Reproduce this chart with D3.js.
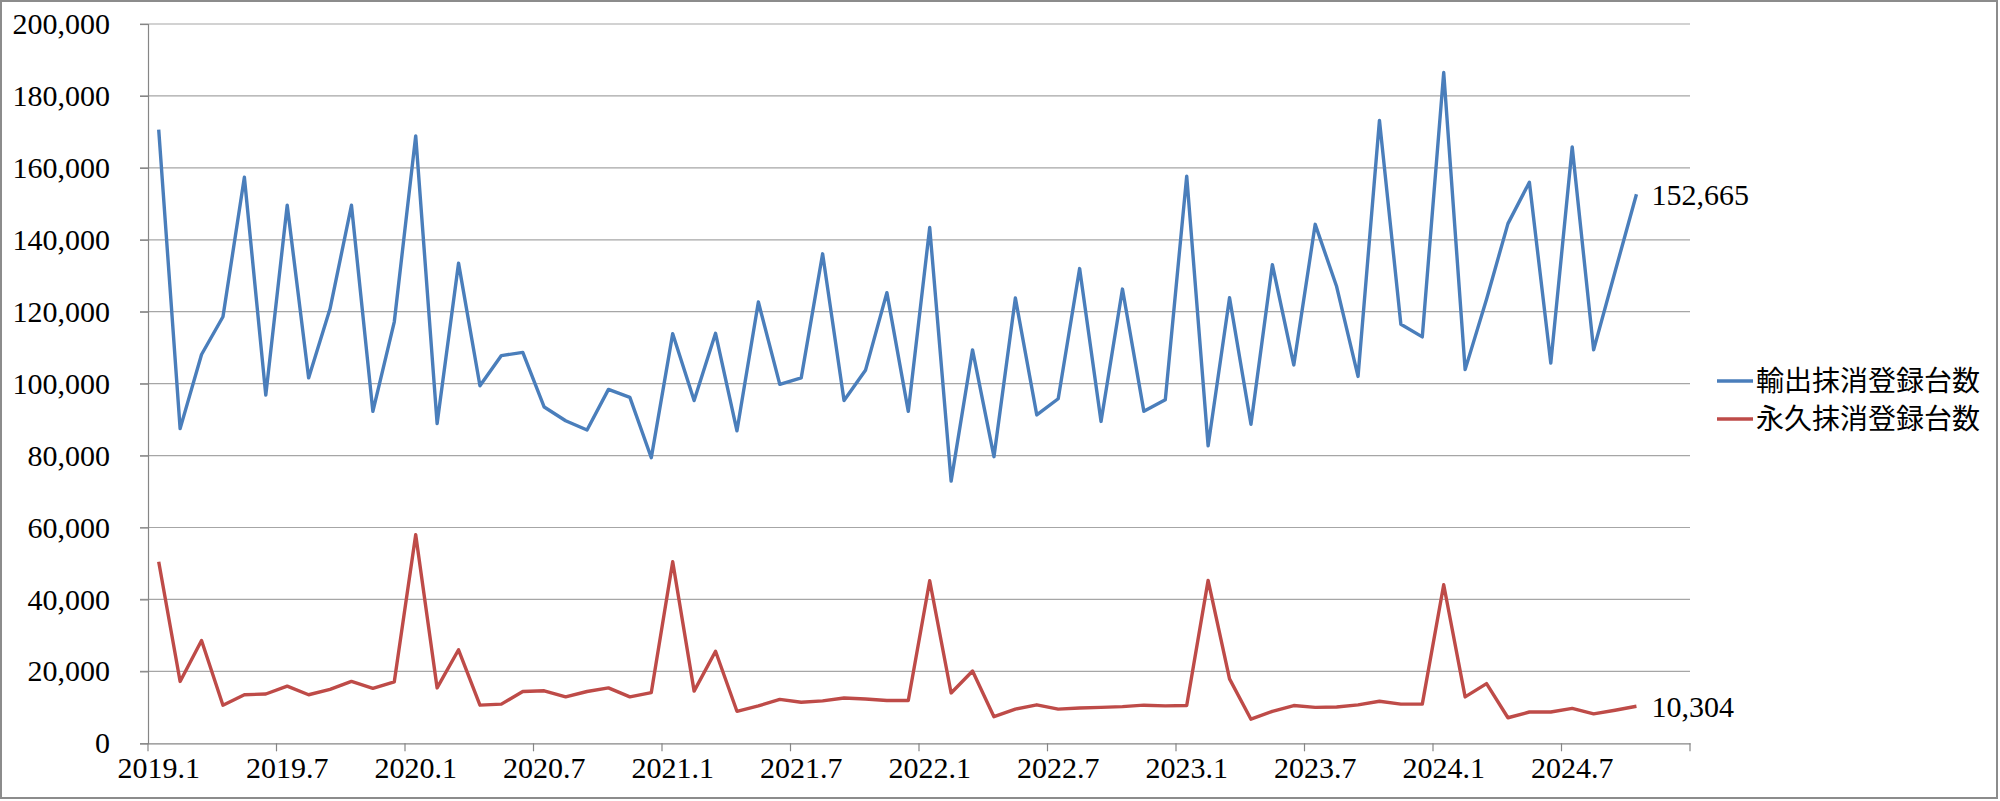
<!DOCTYPE html>
<html>
<head>
<meta charset="utf-8">
<script src="https://cdn.jsdelivr.net/npm/d3@7"></script>
<style>
  html, body { margin: 0; padding: 0; background: #fff; }
  svg { display: block; }
</style>
</head>
<body>
<svg id="chart" width="2000" height="801"></svg>
<script>
// ---- data ----
const years = [2019, 2020, 2021, 2022, 2023, 2024];
const months = [1,2,3,4,5,6,7,8,9,10,11,12];
const categories = [];
years.forEach(yr => months.forEach(m => categories.push(yr + "." + m)));

const seriesNames = ["輸出抹消登録台数", "永久抹消登録台数"];

const exportValues = [
  170600, 87500, 108100, 118600, 157400, 96800, 149600, 101600, 120800, 149600, 92300, 117200,
  168900, 88900, 133500, 99400, 107800, 108700, 93500, 89700, 87100, 98400, 96200, 79400,
  113900, 95300, 114000, 86900, 122700, 99800, 101600, 136100, 95300, 103700, 125300, 92300,
  143400, 72900, 109400, 79700, 123800, 91300, 95800, 132000, 89500, 126300, 92300, 95500,
  157700, 82700, 123900, 88700, 133100, 105200, 144300, 127000, 102000, 173200, 116500, 113000,
  186500, 103900, 123500, 144500, 156000, 105700, 165800, 109400, 131100, 152665
];

const permanentValues = [
  50500, 17200, 28600, 10600, 13500, 13700, 15900, 13500, 15000, 17200, 15300, 17100,
  58000, 15400, 26000, 10600, 10900, 14400, 14600, 12900, 14400, 15400, 12900, 14100,
  50500, 14500, 25600, 8900, 10400, 12200, 11400, 11800, 12600, 12300, 11900, 11900,
  45200, 14000, 20100, 7400, 9500, 10700, 9500, 9800, 10000, 10200, 10600, 10400,
  10500, 45300, 17900, 6700, 8900, 10500, 10000, 10100, 10700, 11700, 10900, 10900,
  44100, 12900, 16600, 7100, 8700, 8700, 9700, 8200, 9200, 10304
];

const yTicks = [0, 20000, 40000, 60000, 80000, 100000, 120000, 140000, 160000, 180000, 200000];
const xTickLabels = ["2019.1","2019.7","2020.1","2020.7","2021.1","2021.7","2022.1","2022.7","2023.1","2023.7","2024.1","2024.7"];

// ---- layout ----
const colors = ["#4A7EBB", "#BE4B48"];
const plotLeft = 148, plotRight = 1690, plotTop = 24, plotBottom = 743.3;
const numFont = "'Liberation Serif', 'DejaVu Serif', serif";
const cjkFont = "'Noto Sans CJK JP', 'Noto Sans', sans-serif";
const numSize = 30;

const svg = d3.select("#chart");

// outer border
svg.append("rect").attr("x", 1).attr("y", 1).attr("width", 1996).attr("height", 797)
  .attr("fill", "#fff").attr("stroke", "#8c8c8c").attr("stroke-width", 2);

const x = d3.scaleBand().domain(categories).range([plotLeft, plotRight]).padding(0);
const y = d3.scaleLinear().domain([0, 200000]).range([plotBottom, plotTop]);

// gridlines
svg.append("g").selectAll("line").data(yTicks.filter(d => d > 0)).join("line")
  .attr("x1", plotLeft - 8).attr("x2", plotRight)
  .attr("y1", d => y(d)).attr("y2", d => y(d))
  .attr("stroke", "#a6a6a6").attr("stroke-width", 1.2);

// y axis
const yAxis = d3.axisLeft(y).tickValues(yTicks).tickFormat(d3.format(",")).tickSize(8).tickPadding(30);
const gy = svg.append("g").attr("transform", `translate(${plotLeft},0)`).call(yAxis);
gy.attr("font-family", numFont);
gy.select(".domain").attr("stroke", "#868686").attr("stroke-width", 1.2);
gy.selectAll(".tick line").attr("stroke", "#868686").attr("stroke-width", 1.2);
gy.selectAll(".tick text").attr("font-family", numFont).attr("font-size", numSize).attr("fill", "#000");

// x axis
const xAxis = d3.axisBottom(x).tickValues(xTickLabels).tickSize(0).tickPadding(13);
const gx = svg.append("g").attr("transform", `translate(0,${plotBottom})`).call(xAxis);
gx.attr("font-family", numFont);
gx.select(".domain").attr("stroke", "#868686").attr("stroke-width", 1.2);
gx.selectAll(".tick text").attr("font-family", numFont).attr("font-size", numSize).attr("fill", "#000");
// tick marks at category boundaries every 6 months
const boundaryIdx = d3.range(0, categories.length + 1, 6);
svg.append("g").selectAll("line").data(boundaryIdx).join("line")
  .attr("x1", i => i < categories.length ? x(categories[i]) : plotRight)
  .attr("x2", i => i < categories.length ? x(categories[i]) : plotRight)
  .attr("y1", plotBottom).attr("y2", plotBottom + 8)
  .attr("stroke", "#868686").attr("stroke-width", 1.2);

// lines
const series = [exportValues, permanentValues];
const line = d3.line().x((d, i) => x(categories[i]) + x.bandwidth() / 2).y(d => y(d));
series.forEach((vals, s) => {
  svg.append("path").datum(vals).attr("d", line)
    .attr("fill", "none").attr("stroke", colors[s]).attr("stroke-width", 3.4)
    .attr("stroke-linejoin", "round");
  const li = vals.length - 1;
  svg.append("text")
    .attr("x", x(categories[li]) + x.bandwidth() / 2 + 15)
    .attr("y", y(vals[li]))
    .attr("dy", "0.35em")
    .attr("font-family", numFont).attr("font-size", numSize).attr("fill", "#000")
    .text(d3.format(",")(vals[li]));
});

// legend
const lg = svg.append("g");
seriesNames.forEach((name, s) => {
  const cy = 381 + s * 38;
  lg.append("line").attr("x1", 1717).attr("x2", 1753).attr("y1", cy).attr("y2", cy)
    .attr("stroke", colors[s]).attr("stroke-width", 3.4);
  lg.append("text").attr("x", 1756).attr("y", cy).attr("dy", "0.36em")
    .attr("font-family", cjkFont).attr("font-size", 28).attr("fill", "#000")
    .text(name);
});
</script>
</body>
</html>
